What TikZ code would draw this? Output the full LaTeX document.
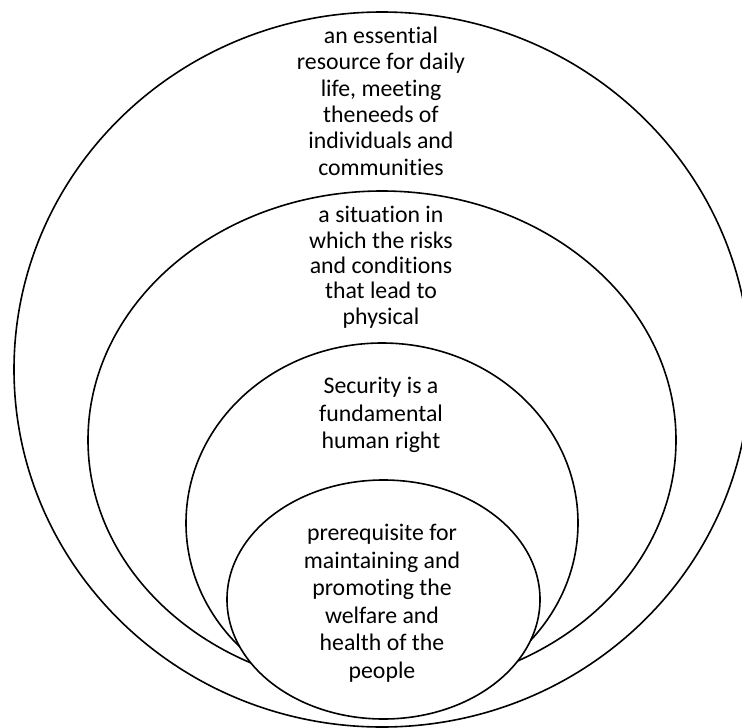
\documentclass[tikz,border=0pt]{standalone}
\usepackage{fontspec}
\setmainfont{Carlito}[RawFeature={-liga;-clig}]
\usetikzlibrary{shapes.geometric}
\tikzset{
  ring/.style={ellipse, draw=black, line width=1.6pt, fill=white, inner sep=0pt, outer sep=0pt},
  label/.style={anchor=north, inner sep=0pt, align=center, text=black}
}
\begin{document}
\begin{tikzpicture}[x=1pt,y=-1pt]
\useasboundingbox (0,0) rectangle (742,728);
\clip (0,0) rectangle (742,728);
\node[ring, minimum width=736pt, minimum height=715pt] (outer) at (382,369.5) {};
\node[ring, minimum width=588pt, minimum height=498pt] (second) at (382,440) {};
\node[ring, minimum width=392pt, minimum height=360pt] (third) at (382,523) {};
\node[ring, minimum width=313pt, minimum height=239pt] (inner) at (383.5,599.5) {};
\node[label, font=\fontsize{23.8}{26.34}\selectfont] (t1) at (381,24.8)
  {\strut an essential\\resource for daily\\life, meeting\\theneeds of\\individuals and\\communities};
\node[label, font=\fontsize{23.8}{25.4}\selectfont] (t2) at (381,204.8)
  {\strut a situation in\\which the risks\\and conditions\\that lead to\\physical};
\node[label, font=\fontsize{23.8}{27.6}\selectfont] (t3) at (381,374.2)
  {\strut Security is a\\fundamental\\human right};
\node[label, font=\fontsize{23.8}{27.5}\selectfont] (t4) at (382,521.5)
  {\strut prerequisite for\\maintaining and\\promoting the\\welfare and\\health of the\\people};
\end{tikzpicture}
\end{document}
